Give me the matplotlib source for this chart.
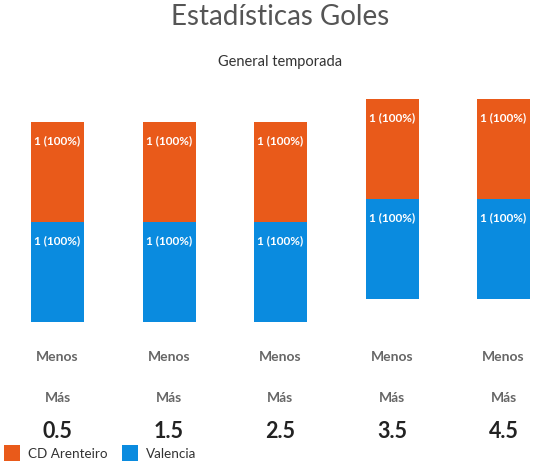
import matplotlib
matplotlib.use("Agg")
import matplotlib.pyplot as plt
from matplotlib.lines import Line2D
from matplotlib.transforms import blended_transform_factory

categories = ["0.5", "1.5", "2.5", "3.5", "4.5"]
series_names = ["CD Arenteiro", "Valencia"]
arenteiro = [1, 1, 1, 1, 1]
valencia = [1, 1, 1, 1, 1]
arenteiro_pct = [100, 100, 100, 100, 100]
valencia_pct = [100, 100, 100, 100, 100]
base = [0, 0, 0, 0.23, 0.23]
row_labels = ["Menos", "Más"]

C_OR = "#E95A1A"
C_BL = "#0A8BDF"

plt.rcParams["font.family"] = ["Lato", "DejaVu Sans"]
W, H = 541, 465
fig = plt.figure(figsize=(W / 100, H / 100), dpi=100)

# axes geometry (pixels)
x0px, step = 57.5, 111.5
ybot, ppu = 322, 100
top_px = 85
ax = fig.add_axes([0, 1 - ybot / H, 1, (ybot - top_px) / H])
ax.set_xlim(-x0px / step, (W - x0px) / step)
ax.set_ylim(0, (ybot - top_px) / ppu)
ax.axis("off")

xs = list(range(len(categories)))
bw = 53 / step
ax.bar(xs, valencia, bottom=base, width=bw, color=C_BL, linewidth=0)
tops_v = [b + v for b, v in zip(base, valencia)]
ax.bar(xs, arenteiro, bottom=tops_v, width=bw, color=C_OR, linewidth=0)

off = 0.19
for i in xs:
    ax.text(i, tops_v[i] - off, f"{valencia[i]} ({valencia_pct[i]}%)", ha="center", va="center",
            color="white", fontsize=8.5, fontweight="bold")
    ax.text(i, tops_v[i] + arenteiro[i] - off, f"{arenteiro[i]} ({arenteiro_pct[i]}%)", ha="center",
            va="center", color="white", fontsize=8.5, fontweight="bold")

tr = blended_transform_factory(ax.transData, fig.transFigure)
for i, c in enumerate(categories):
    ax.text(i, 1 - 357 / H, row_labels[0], transform=tr, ha="center", va="center",
            color="#666666", fontsize=10, fontweight="bold")
    ax.text(i, 1 - 398 / H, row_labels[1], transform=tr, ha="center", va="center",
            color="#666666", fontsize=10, fontweight="bold")
    ax.text(i, 1 - 431 / H, c, transform=tr, ha="center", va="center",
            color="#222222", fontsize=15.5, fontweight="bold")

fig.text(280.5 / W, 1 - 17 / H, "Estadísticas Goles", ha="center", va="center",
         color="#555555", fontsize=20)
fig.text(280.5 / W, 1 - 62 / H, "General temporada", ha="center", va="center",
         color="#333333", fontsize=10.5)

handles = [Line2D([], [], marker="s", linestyle="none", markersize=11, markerfacecolor=C_OR,
                  markeredgewidth=0),
           Line2D([], [], marker="s", linestyle="none", markersize=11, markerfacecolor=C_BL,
                  markeredgewidth=0)]
fig.legend(handles, series_names, loc="center left", bbox_to_anchor=(-0.012, 1 - 454 / H),
           ncol=2, frameon=False, fontsize=9.7, handlelength=1.0, handletextpad=0.65,
           columnspacing=1.2, labelcolor="#333333")

fig.savefig("out.png", dpi=100)
